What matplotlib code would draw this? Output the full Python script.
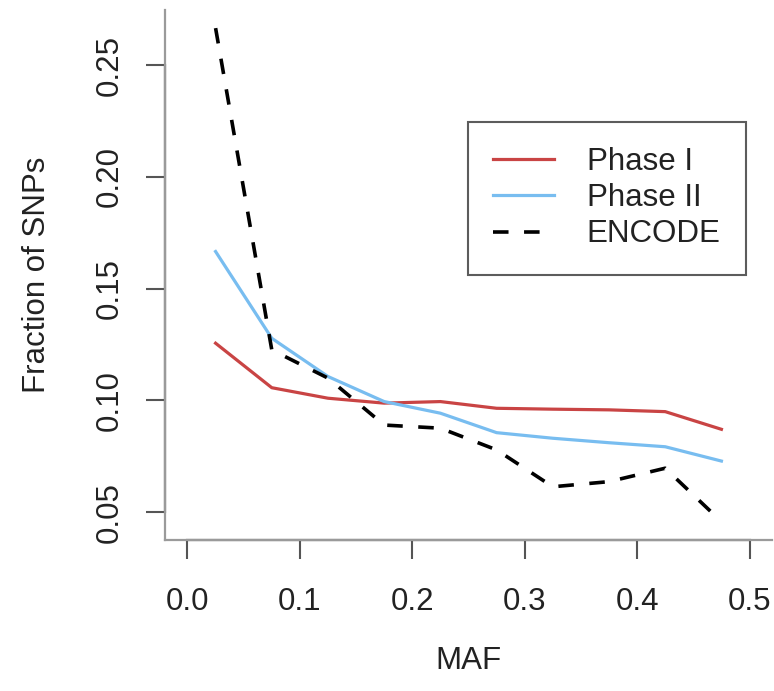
import matplotlib
matplotlib.use("Agg")
import matplotlib.pyplot as plt
import matplotlib.transforms as mtransforms

# Data
maf = [0.025, 0.075, 0.125, 0.175, 0.225, 0.275, 0.325, 0.375, 0.425, 0.475]
phase1 = [0.1256, 0.1057, 0.1010, 0.0988, 0.0995, 0.0965, 0.0961, 0.0958, 0.0950, 0.0871]
phase2 = [0.1666, 0.1278, 0.1107, 0.0995, 0.0943, 0.0856, 0.0831, 0.0811, 0.0793, 0.0729]
encode = [0.2665, 0.1226, 0.1100, 0.0890, 0.0876, 0.0779, 0.0614, 0.0637, 0.0697, 0.0458]
xticks = [0.0, 0.1, 0.2, 0.3, 0.4, 0.5]
yticks = [0.05, 0.10, 0.15, 0.20, 0.25]
labels = ["Phase I", "Phase II", "ENCODE"]

plt.rcParams['font.family'] = ['Liberation Sans', 'DejaVu Sans']
FS = 22.5
W, H = 774, 691
fig = plt.figure(figsize=(W / 100, H / 100), dpi=100)
ax = fig.add_axes([165 / W, 1 - 540 / H, (772 - 165) / W, (540 - 10) / H])

red = "#C94444"
blue = "#78BDF0"
ax.plot(maf, phase1, color=red, lw=2.3, label=labels[0])
ax.plot(maf, phase2, color=blue, lw=2.3, label=labels[1])
ax.plot(maf, encode, color="black", lw=2.6, linestyle=(0, (4.3, 4.3)), label=labels[2])

ax.set_xlim(-0.02, 0.52)
ax.set_ylim(0.0376, 0.2746)

for s in ["top", "right"]:
    ax.spines[s].set_visible(False)
for s in ["left", "bottom"]:
    ax.spines[s].set_color("#9a9a9a")
    ax.spines[s].set_linewidth(1.6)

# R-style axis lines spanning the tick range
tl = mtransforms.blended_transform_factory(ax.transAxes, ax.transData)
ax.plot([0, 0], [yticks[0], yticks[-1]], transform=tl, color="#555555", lw=1.6, clip_on=False)
tb = mtransforms.blended_transform_factory(ax.transData, ax.transAxes)
ax.plot([xticks[0], xticks[-1]], [0, 0], transform=tb, color="#444444", lw=1.6, clip_on=False)

ax.set_xticks(xticks)
ax.set_xticklabels([f"{v:.1f}" for v in xticks])
ax.set_yticks(yticks)
ax.set_yticklabels([f"{v:.2f}" for v in yticks], rotation=90, va="center")
ax.tick_params(axis="both", length=14, width=1.5, color="#555555",
               labelsize=FS, labelcolor="#222222")
ax.tick_params(axis="x", pad=20)
ax.tick_params(axis="y", pad=15)

ax.set_xlabel("MAF", fontsize=FS, color="#222222", labelpad=21)
ax.set_ylabel("Fraction of SNPs", fontsize=FS, color="#222222", labelpad=31)

leg = ax.legend(loc="upper left", bbox_to_anchor=(468 / W, 1 - 122 / H),
                bbox_transform=fig.transFigure, fontsize=FS, frameon=True,
                fancybox=False, handlelength=1.95, handletextpad=1.05,
                labelspacing=0.2, borderpad=0.8, borderaxespad=0)
leg.get_frame().set_edgecolor("#333333")
leg.get_frame().set_linewidth(1.5)
for t in leg.get_texts():
    t.set_color("#222222")

fig.savefig("out.png", dpi=100)
